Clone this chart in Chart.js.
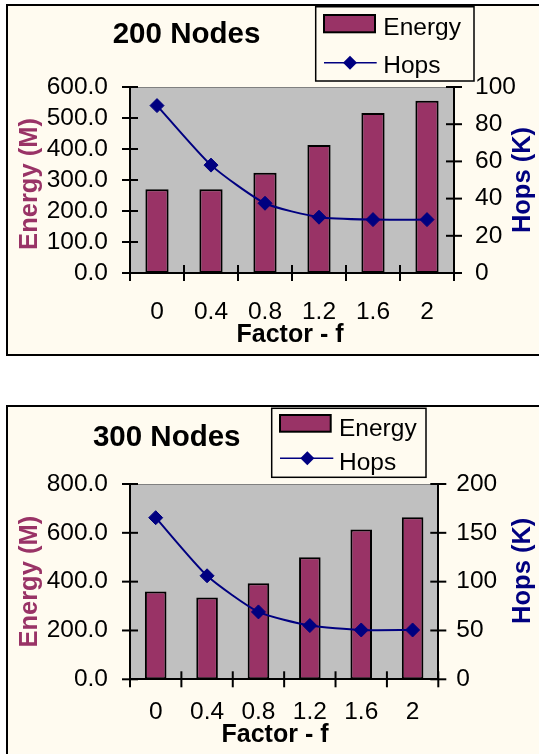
<!DOCTYPE html>
<html>
<head>
<meta charset="utf-8">
<script src="https://cdn.jsdelivr.net/npm/chart.js@4.4.1/dist/chart.umd.min.js"></script>
<style>
  html, body { margin: 0; padding: 0; background: #fff; width: 539px; height: 754px; overflow: hidden; }
  .frame { position: absolute; left: 6px; width: 560px; border: 2px solid #000; background: #fffbf0; }
  #f1 { top: 4px; height: 348px; }
  #f2 { top: 405px; height: 360px; }
  canvas { display: block; }
</style>
</head>
<body>
<div class="frame" id="f1"><canvas id="c1" width="560" height="348"></canvas></div>
<div class="frame" id="f2"><canvas id="c2" width="560" height="360"></canvas></div>
<script>
const factors = ['0', '0.4', '0.8', '1.2', '1.6', '2'];
const energy200 = [270, 270, 323, 413, 516, 556];
const hops200 = [90, 58, 37.5, 30, 28.7, 28.7];
const energy300 = [360, 335, 393, 500, 614, 664];
const hops300 = [165.5, 106, 69, 55, 50.5, 50.5];

const FONT = "'Liberation Sans', Arial, sans-serif";
const ENERGY_COLOR = '#993366';
const HOPS_COLOR = '#000080';

// plot background, crossing tick marks, titles and the boxed legend
const decor = {
    id: 'decor',
    beforeDraw(chart) {
        const { ctx, chartArea: a } = chart;
        ctx.save();
        ctx.fillStyle = '#c0c0c0';
        ctx.fillRect(a.left, a.top, a.right - a.left, a.bottom - a.top);
        ctx.strokeStyle = '#808080';
        ctx.lineWidth = 1;
        ctx.beginPath();
        ctx.moveTo(a.left, a.top + 0.5);
        ctx.lineTo(a.right, a.top + 0.5);
        ctx.stroke();
        ctx.restore();
    },
    afterDraw(chart, args, o) {
        const { ctx, chartArea: a } = chart;
        ctx.save();
        ctx.strokeStyle = '#000';
        ctx.lineWidth = 2;
        const line = (x1, y1, x2, y2) => { ctx.beginPath(); ctx.moveTo(x1, y1); ctx.lineTo(x2, y2); ctx.stroke(); };

        const n = chart.scales.x.ticks.length;
        for (let i = 0; i <= n; i++) {
            const px = a.left + (a.right - a.left) * i / n;
            line(px, a.bottom - 8, px, a.bottom + 8);
        }
        ['y', 'y1'].forEach(id => {
            const s = chart.scales[id];
            const x0 = id === 'y' ? a.left : a.right;
            s.ticks.forEach(t => {
                const py = s.getPixelForValue(t.value);
                line(x0 - 8, py, x0 + 8, py);
            });
        });

        // chart title
        ctx.fillStyle = '#000';
        ctx.textAlign = 'center';
        ctx.textBaseline = 'alphabetic';
        ctx.font = `bold 29.5px ${FONT}`;
        ctx.fillText(o.title, o.titleX, o.titleY);

        // x title
        ctx.font = `bold 25px ${FONT}`;
        ctx.fillText('Factor - f', o.xTitleX, o.xTitleY);

        // rotated y titles
        const vtext = (txt, x, y, color) => {
            ctx.save();
            ctx.translate(x, y);
            ctx.rotate(-Math.PI / 2);
            ctx.fillStyle = color;
            ctx.font = `bold 25.5px ${FONT}`;
            ctx.textAlign = 'center';
            ctx.fillText(txt, 0, 0);
            ctx.restore();
        };
        vtext('Energy (M)', o.leftTitle[0], o.leftTitle[1], ENERGY_COLOR);
        vtext('Hops (K)', o.rightTitle[0], o.rightTitle[1], HOPS_COLOR);

        // legend
        const L = o.legend;
        const ds = chart.data.datasets;
        ctx.lineWidth = 1.5;
        ctx.strokeStyle = '#000';
        ctx.strokeRect(L.box[0], L.box[1], L.box[2] - L.box[0], L.box[3] - L.box[1]);
        ctx.fillStyle = ds[0].backgroundColor;
        ctx.fillRect(L.swatch[0], L.swatch[1], L.swatch[2] - L.swatch[0], L.swatch[3] - L.swatch[1]);
        ctx.lineWidth = 2;
        ctx.strokeRect(L.swatch[0], L.swatch[1], L.swatch[2] - L.swatch[0], L.swatch[3] - L.swatch[1]);
        ctx.strokeStyle = ds[1].borderColor;
        ctx.lineWidth = 1.5;
        line(L.swatch[0], L.lineY, L.lineEnd, L.lineY);
        ctx.fillStyle = ds[1].borderColor;
        const r = 7;
        ctx.beginPath();
        ctx.moveTo(L.diamondX - r, L.lineY);
        ctx.lineTo(L.diamondX, L.lineY - r);
        ctx.lineTo(L.diamondX + r, L.lineY);
        ctx.lineTo(L.diamondX, L.lineY + r);
        ctx.closePath();
        ctx.fill();
        ctx.fillStyle = '#000';
        ctx.textAlign = 'left';
        ctx.font = `24.5px ${FONT}`;
        ctx.fillText(ds[0].label, L.textX, L.energyY);
        ctx.fillText(ds[1].label, L.textX, L.hopsY);
        ctx.restore();
    }
};

function makeChart(id, energy, hops, opt) {
    const tickFont = { family: FONT, size: 24.5 };
    return new Chart(document.getElementById(id), {
        type: 'bar',
        data: {
            labels: factors,
            datasets: [
                {
                    type: 'bar', label: 'Energy', data: energy, yAxisID: 'y', order: 2,
                    backgroundColor: ENERGY_COLOR, borderColor: '#000', borderWidth: 2, borderSkipped: false,
                    categoryPercentage: 1, barPercentage: opt.barPct
                },
                {
                    type: 'line', label: 'Hops', data: hops, yAxisID: 'y1', order: 1,
                    borderColor: HOPS_COLOR, borderWidth: 2, tension: 0.2, fill: false,
                    pointStyle: 'rectRot', pointRadius: 7, pointBackgroundColor: HOPS_COLOR,
                    pointBorderColor: HOPS_COLOR, pointBorderWidth: 1
                }
            ]
        },
        options: {
            responsive: false,
            animation: false,
            devicePixelRatio: 1,
            layout: { padding: { top: opt.top, left: 0, right: 0, bottom: 0 } },
            plugins: {
                legend: { display: false },
                tooltip: { enabled: false },
                decor: opt.decor
            },
            scales: {
                x: {
                    offset: true,
                    grid: { display: false, drawTicks: false },
                    border: { display: true, color: '#000', width: 2 },
                    ticks: { color: '#000', font: tickFont, padding: opt.xPad, maxRotation: 0, autoSkip: false },
                    afterFit: s => { s.height = opt.xHeight; }
                },
                y: {
                    position: 'left', min: 0, max: opt.yMax,
                    grid: { display: false, drawTicks: false },
                    border: { display: true, color: '#000', width: 2 },
                    ticks: { color: '#000', font: tickFont, padding: 22, stepSize: opt.yStep, autoSkip: false, callback: v => v.toFixed(1) },
                    afterFit: s => { s.width = 122; }
                },
                y1: {
                    position: 'right', min: 0, max: opt.y1Max,
                    grid: { display: false, drawTicks: false },
                    border: { display: true, color: '#000', width: 2 },
                    ticks: { color: '#000', font: tickFont, padding: opt.y1Pad, stepSize: opt.y1Step, autoSkip: false },
                    afterFit: s => { s.width = opt.rightWidth; }
                }
            }
        },
        plugins: [decor]
    });
}

makeChart('c1', energy200, hops200, {
    top: 81, xHeight: 81, rightWidth: 114, xPad: 25, y1Pad: 21, barPct: 0.43,
    yMax: 600, yStep: 100, y1Max: 100, y1Step: 20,
    decor: {
        title: '200 Nodes', titleX: 178.5, titleY: 37,
        xTitleX: 282, xTitleY: 335.7,
        leftTitle: [28.7, 178], rightTitle: [522, 174],
        legend: {
            box: [307.7, 0.75, 466, 75], swatch: [316, 9, 367, 26.3],
            lineY: 56.7, lineEnd: 368.7, diamondX: 342,
            textX: 375.3, energyY: 29, hopsY: 66.7
        }
    }
});

makeChart('c2', energy300, hops300, {
    top: 77, xHeight: 87.7, rightWidth: 129.7, xPad: 18.5, y1Pad: 18, barPct: 0.42,
    yMax: 800, yStep: 200, y1Max: 200, y1Step: 50,
    decor: {
        title: '300 Nodes', titleX: 158.7, titleY: 39,
        xTitleX: 267, xTitleY: 334.7,
        leftTitle: [29.3, 174.7], rightTitle: [522, 163.8],
        legend: {
            box: [263.7, 1.3, 418, 70.3], swatch: [272, 8, 322.7, 24.7],
            lineY: 51.3, lineEnd: 325.3, diamondX: 299.3,
            textX: 331, energyY: 28.7, hopsY: 63
        }
    }
});
</script>
</body>
</html>
